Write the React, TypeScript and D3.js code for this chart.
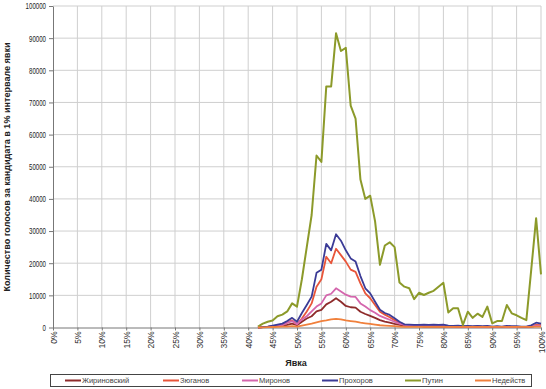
import React, { useEffect, useRef } from "react";
import * as d3 from "d3";

// turnout bins, 42% .. 100%
const turnout = d3.range(42, 101);

const zhirinovsky = [
  0, 100, 200, 300, 400, 500, 800, 1200, 700, 1800,
  2800, 3500, 5000, 5500, 7200, 8000, 9100, 8000, 6700, 6300,
  6200, 4900, 4200, 3600, 3000, 2300, 1800, 1500, 1100, 800,
  600, 500, 400, 400, 300, 300, 300, 300, 300, 300,
  300, 200, 300, 200, 200, 300, 200, 200, 200, 200,
  200, 200, 200, 200, 200, 200, 300, 500, 400,
];
const zyuganov = [
  0, 100, 200, 400, 600, 800, 1500, 2200, 1000, 2800,
  5000, 7500, 12700, 15000, 22000, 20000, 24500, 22500, 20500, 18000,
  17300, 13700, 10600, 9100, 7000, 4900, 4000, 3200, 2300, 1500,
  900, 700, 600, 600, 600, 500, 600, 500, 600, 400,
  300, 400, 200, 300, 200, 300, 200, 300, 200, 200,
  200, 300, 200, 200, 200, 200, 400, 800, 700,
];
const mironov = [
  0, 100, 200, 400, 500, 700, 1500, 2000, 1000, 2500,
  3500, 5000, 6500, 7500, 10000, 10500, 12200, 11200, 10200, 9600,
  9500, 7500, 6500, 5400, 4600, 3600, 3000, 2400, 1800, 1200,
  800, 700, 600, 500, 500, 500, 500, 400, 500, 300,
  300, 300, 200, 300, 200, 300, 200, 300, 200, 200,
  200, 300, 200, 200, 200, 200, 400, 600, 500,
];
const prokhorov = [
  0, 100, 300, 600, 900, 1200, 2000, 3000, 1800, 4500,
  7000, 9600, 17000, 18000, 26000, 24000, 29000, 27000, 24000, 21500,
  20500, 16000, 12200, 10600, 8000, 5500, 4500, 3900, 2900, 1800,
  1000, 900, 800, 800, 900, 800, 900, 800, 900, 600,
  500, 600, 400, 500, 400, 500, 400, 500, 300, 400,
  300, 500, 400, 400, 300, 300, 700, 1500, 1200,
];
const putin = [
  300, 1200, 1800, 2200, 3500, 4000, 5000, 7500, 6500, 15000,
  25000, 35000, 53500, 51500, 75000, 75000, 91500, 86000, 87000, 69000,
  65000, 46000, 40000, 41000, 33000, 19500, 25500, 26500, 25000, 14000,
  12700, 12200, 8800, 10800, 10100, 10800, 11400, 12700, 13900, 4700,
  6000, 6000, 800, 4900, 3000, 4300, 3300, 6500, 1300, 2000,
  2000, 7000, 4400, 3800, 3000, 2300, 18000, 34000, 16500,
];
const invalid = [
  0, 50, 100, 150, 200, 250, 300, 400, 300, 600,
  900, 1200, 1600, 2000, 2200, 2500, 2700, 2500, 2200, 2000,
  1800, 1500, 1300, 1100, 900, 700, 600, 500, 400, 300,
  200, 200, 200, 200, 200, 200, 200, 200, 200, 200,
  200, 200, 200, 200, 200, 200, 200, 200, 200, 200,
  200, 200, 200, 200, 200, 200, 200, 300, 300,
];

const seriesNames = ["Жириновский", "Зюганов", "Миронов", "Прохоров", "Путин", "Недейств"];
const seriesValues = [zhirinovsky, zyuganov, mironov, prokhorov, putin, invalid];
const colors = ["#8e2b2b", "#e8553a", "#d466ad", "#3b3b96", "#8c9a2a", "#f0803c"];

const yTicks = d3.range(0, 100001, 10000);
const xTicks = d3.range(0, 101, 5);

const width = 546;
const height = 389;
const margin = { top: 6, right: 5, bottom: 61.5, left: 53 };
// legend item start positions (layout only)
const legendX = [65, 163, 242, 322, 405, 475];

const App = () => {
  const ref = useRef(null);

  useEffect(() => {
    const svg = d3.select(ref.current);
    svg.selectAll("*").remove();

    const x = d3
      .scaleLinear()
      .domain([0, 100])
      .range([margin.left, width - margin.right]);

    const y = d3
      .scaleLinear()
      .domain([0, 100000])
      .range([height - margin.bottom, margin.top]);

    const font = "Arial, 'Liberation Sans', sans-serif";

    // grid
    svg
      .append("g")
      .selectAll("line")
      .data(yTicks.slice(1))
      .join("line")
      .attr("x1", x(0))
      .attr("x2", x(100))
      .attr("y1", (d) => y(d))
      .attr("y2", (d) => y(d))
      .attr("stroke", "#cfcfcf")
      .attr("stroke-width", 1);

    svg
      .append("g")
      .selectAll("line")
      .data(xTicks.slice(1))
      .join("line")
      .attr("x1", (d) => x(d))
      .attr("x2", (d) => x(d))
      .attr("y1", y(0))
      .attr("y2", y(100000))
      .attr("stroke", "#cfcfcf")
      .attr("stroke-width", 1);

    // y axis
    const yAxis = svg
      .append("g")
      .attr("transform", `translate(${x(0)},0)`)
      .call(
        d3
          .axisLeft(y)
          .tickValues(yTicks)
          .tickSize(4)
          .tickSizeOuter(0)
          .tickPadding(3)
          .tickFormat(d3.format("d"))
      );
    yAxis.select(".domain").attr("stroke", "#777");
    yAxis.selectAll(".tick line").attr("stroke", "#777");
    yAxis
      .selectAll(".tick text")
      .attr("font-family", font)
      .attr("font-size", 9)
      .attr("fill", "#222")
      .attr("textLength", (d) => String(d).length * 3.4)
      .attr("lengthAdjust", "spacingAndGlyphs");

    // x axis
    const xAxis = svg
      .append("g")
      .attr("transform", `translate(0,${y(0)})`)
      .call(
        d3
          .axisBottom(x)
          .tickValues(xTicks)
          .tickSize(3)
          .tickSizeOuter(0)
          .tickFormat((d) => d + "%")
      );
    xAxis.select(".domain").attr("stroke", "#777");
    xAxis.selectAll(".tick line").attr("stroke", "#777");
    xAxis
      .selectAll(".tick text")
      .attr("font-family", font)
      .attr("font-size", 8.5)
      .attr("fill", "#333")
      .attr("text-anchor", "end")
      .attr("dy", null)
      .attr("y", 0)
      .attr("transform", "translate(3,4) rotate(-90)");

    // lines
    const line = d3
      .line()
      .x((d) => x(d[0]))
      .y((d) => y(d[1]));

    seriesValues.forEach((vals, i) => {
      svg
        .append("path")
        .datum(turnout.map((t, j) => [t, vals[j]]))
        .attr("fill", "none")
        .attr("stroke", colors[i])
        .attr("stroke-width", i === 4 ? 2 : 1.8)
        .attr("stroke-linejoin", "round")
        .attr("d", line);
    });

    // axis titles
    svg
      .append("text")
      .attr("x", 296)
      .attr("y", 366)
      .attr("text-anchor", "middle")
      .attr("font-family", font)
      .attr("font-size", 9)
      .attr("font-weight", "bold")
      .attr("fill", "#222")
      .text("Явка");

    svg
      .append("text")
      .attr("transform", "translate(10,167) rotate(-90)")
      .attr("text-anchor", "middle")
      .attr("font-family", font)
      .attr("font-size", 8.5)
      .attr("font-weight", "bold")
      .attr("fill", "#222")
      .attr("textLength", 249)
      .attr("lengthAdjust", "spacingAndGlyphs")
      .text("Количество голосов за кандидата в 1% интервале явки");

    // legend
    const legend = svg.append("g");
    legend
      .append("rect")
      .attr("x", 50.5)
      .attr("y", 374.5)
      .attr("width", 481)
      .attr("height", 12)
      .attr("fill", "white")
      .attr("stroke", "#444");

    const item = legend
      .selectAll("g")
      .data(seriesNames)
      .join("g")
      .attr("transform", (d, i) => `translate(${legendX[i]},380.5)`);
    item
      .append("line")
      .attr("x1", 0)
      .attr("x2", 16)
      .attr("stroke", (d, i) => colors[i])
      .attr("stroke-width", 2);
    item
      .append("text")
      .attr("x", 17)
      .attr("dy", "0.35em")
      .attr("font-family", font)
      .attr("font-size", 7.5)
      .attr("fill", "#444")
      .text((d) => d);
  }, []);

  return (
    <svg
      ref={ref}
      width={width}
      height={height}
      style={{ position: "absolute", left: 0, top: 0, background: "white" }}
    />
  );
};

export default App;
